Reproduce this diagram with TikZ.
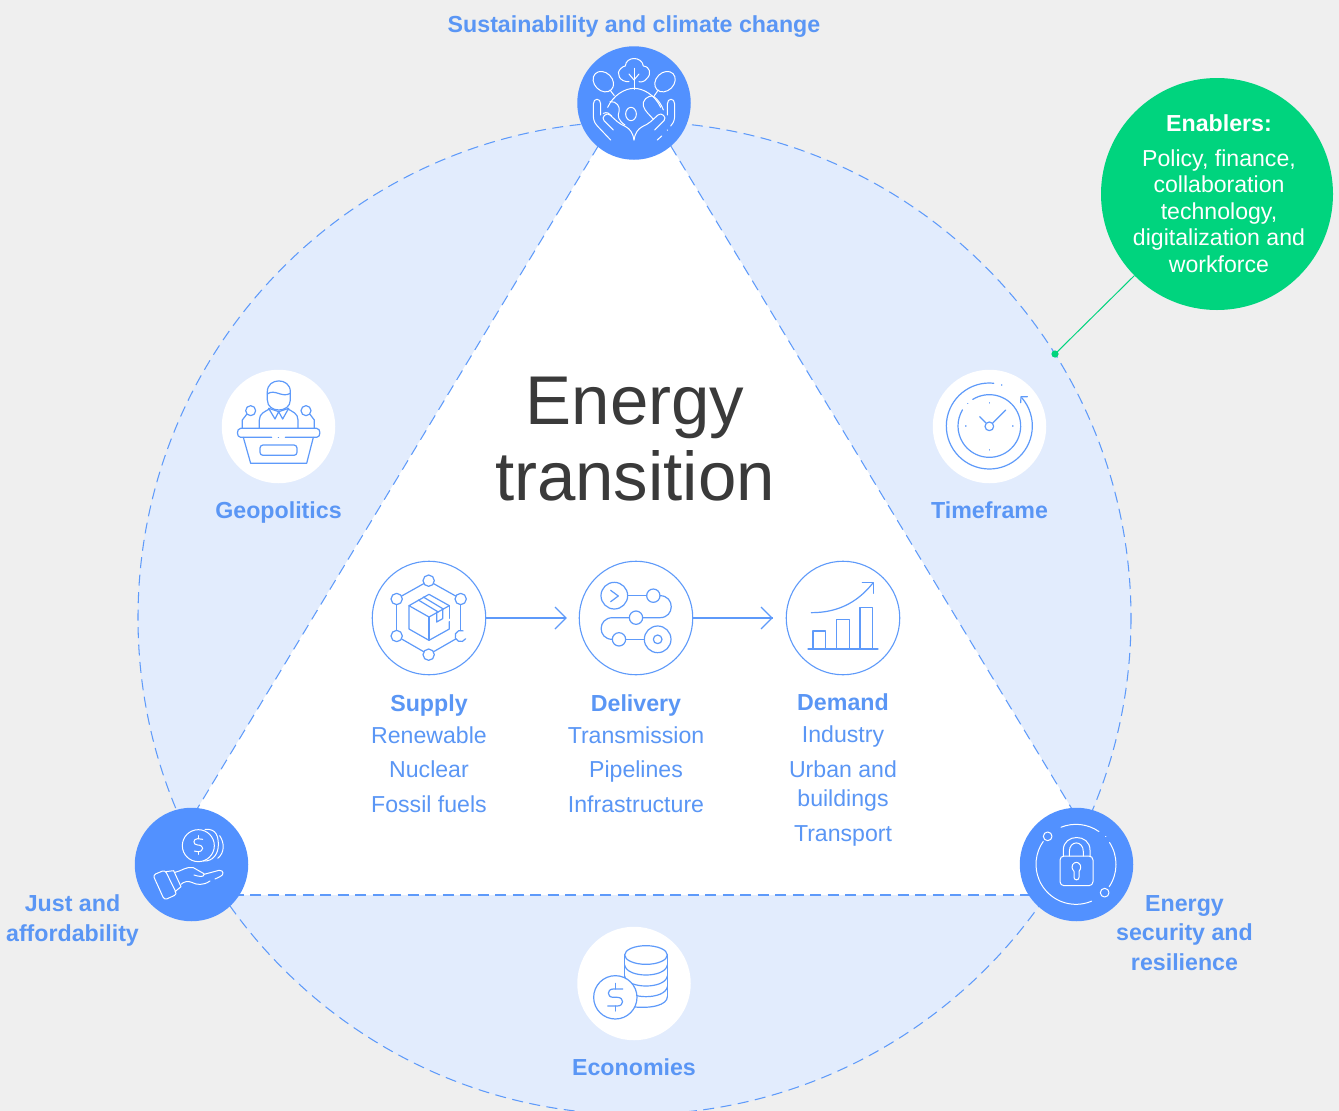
\documentclass[tikz,border=0pt]{standalone}
\usepackage{fontspec}
\setmainfont{Liberation Sans}
\definecolor{bgc}{HTML}{EFEFEF}
\definecolor{paleb}{HTML}{E2ECFD}
\definecolor{discb}{HTML}{5291FF}
\definecolor{txtb}{HTML}{5A96F5}
\definecolor{lineb}{HTML}{5E9AFA}
\definecolor{greenc}{HTML}{00D47E}
\definecolor{darkt}{HTML}{3A3A3A}
\tikzset{
  dashln/.style={draw=lineb,line width=1.05pt,dash pattern=on 11pt off 6.5pt},
  bluedisc/.style={circle,fill=discb,minimum size=113.5pt,inner sep=0pt},
  whitedisc/.style={circle,fill=white,minimum size=113.5pt,inner sep=0pt},
  ringdisc/.style={circle,draw=lineb,line width=1.1pt,fill=white,minimum size=113.5pt,inner sep=0pt},
  lab/.style={anchor=base,inner sep=0pt,text=txtb,font=\fontsize{23.2}{28}\selectfont\bfseries},
  lst/.style={anchor=base,inner sep=0pt,text=txtb,font=\fontsize{23.1}{28}\selectfont},
  mlab/.style={inner sep=0pt,align=center,text=txtb,font=\fontsize{23.2}{29.6}\selectfont\bfseries},
  ico/.style={draw=lineb,line width=1.2pt,line cap=round,line join=round},
  icw/.style={draw=white,line width=1pt,line cap=round,line join=round},
  zoomed/.style={x=0.33333pt,y=-0.33333pt},
  conn/.style={draw=lineb,line width=1.1pt},
}
\begin{document}
\begin{tikzpicture}[x=1pt,y=-1pt]
\useasboundingbox (0,0) rectangle (1339,1111);
\fill[bgc] (0,0) rectangle (1339,1111);
% big circle and triangle
\fill[paleb] (634.5,618) circle (496.5);
\begin{scope}
  \clip (634.5,618) circle (496.5);
  \fill[white] (634.5,86) -- (145,895) -- (1124,895) -- cycle;
  \path[dashln] (634.5,86) -- (145,895);
  \path[dashln] (634.5,86) -- (1124,895);
  \path[dashln] (145,895) -- (1124,895);
\end{scope}
\path[dashln] (634.5,618) circle (496.5);

% discs
\node[bluedisc] (sust) at (634,103) {};
\node[bluedisc] (just) at (191.5,864.5) {};
\node[bluedisc] (secu) at (1076.5,864.5) {};
\node[whitedisc] (geop) at (278.5,426.5) {};
\node[whitedisc] (time) at (989.5,426.5) {};
\node[whitedisc] (econ) at (634,983.5) {};
\node[ringdisc] (supply) at (429,618) {};
\node[ringdisc] (delivery) at (636,618) {};
\node[ringdisc] (demand) at (843,618) {};

% connectors
\draw[conn,shorten >=13pt] (supply) -- (delivery);
\draw[conn,shorten >=13pt] (delivery) -- (demand);
\coordinate (ah1) at (566,618);
\coordinate (ah2) at (772,618);
\draw[conn] ([shift={(-11,-11)}]ah1) -- (ah1) -- ([shift={(-11,11)}]ah1);
\draw[conn] ([shift={(-11,-11)}]ah2) -- (ah2) -- ([shift={(-11,11)}]ah2);

% enablers
\node[circle,fill=greenc,minimum size=232pt,inner sep=0pt] (enab) at (1217,194) {};
\coordinate (edot) at (1055,354);
\draw[greenc,line width=1pt] (enab) -- (edot);
\fill[greenc] (edot) circle (3.6);
\node[anchor=base,inner sep=0pt,text=white,font=\fontsize{23.2}{28}\selectfont\bfseries] (enabh) at (1219,131) {Enablers:};
\node[inner sep=0pt,align=center,text=white,font=\fontsize{23.1}{26.6}\selectfont] (enabt) at (1219,211) {Policy, finance,\\collaboration\\technology,\\digitalization and\\workforce};

% titles
\node[inner sep=0pt,align=center,text=darkt,font=\fontsize{69}{76}\selectfont] (title) at (635,439) {Energy\\transition};
\node[lab] (l1) at (634,32) {Sustainability and climate change};
\node[lab] (l2) at (278.5,518) {Geopolitics};
\node[lab] (l3) at (989.5,518) {Timeframe};
\node[lab] (l4) at (634,1075) {Economies};
\node[mlab] (l5) at (72.5,920.5) {Just and\\affordability};
\node[mlab] (l6) at (1184.5,933) {Energy\\security and\\resilience};

\node[lab] (s0) at (429,711) {Supply};
\node[lst] (s1) at (429,743) {Renewable};
\node[lst] (s2) at (429,777) {Nuclear};
\node[lst] (s3) at (429,812) {Fossil fuels};
\node[lab] (d0) at (636,711) {Delivery};
\node[lst] (d1) at (636,743) {Transmission};
\node[lst] (d2) at (636,777) {Pipelines};
\node[lst] (d3) at (636,812) {Infrastructure};
\node[lab] (e0) at (843,710) {Demand};
\node[lst] (e1) at (843,742) {Industry};
\node[lst] (e2) at (843,777) {Urban and};
\node[lst] (e3) at (843,806) {buildings};
\node[lst] (e4) at (843,841) {Transport};

% ---- sustainability icon
\begin{scope}[shift={(560,30)},zoomed]
  \draw[icw] (207,155) .. controls (180,157) and (165,130) .. (183,115) .. controls (188,110) and (193,108) .. (196,108) .. controls (198,78) and (246,78) .. (250,108) .. controls (270,110) and (276,132) .. (260,146) .. controls (254,156) and (240,157) .. (237,155);
  \draw[icw] (222,115) -- (222,178);
  \draw[icw] (207,132) -- (222,150) -- (237,132);
  \draw[icw,shift={(130,155)},rotate=-45] (0,0) ellipse (34 and 27);
  \draw[icw,shift={(315,155)},rotate=45] (0,0) ellipse (34 and 27);
  \draw[icw] (150,180) -- (163,197);
  \draw[icw] (295,180) -- (283,197);
  \draw[icw] (143,232) .. controls (160,195) and (195,175) .. (222,175) .. controls (250,175) and (285,195) .. (302,232);
  \draw[icw] (152,330) -- (112,288) .. controls (100,275) and (100,265) .. (100,250) -- (100,222) .. controls (100,203) and (122,203) .. (122,222) -- (122,255);
  \draw[icw] (160,300) -- (132,272) .. controls (122,262) and (140,245) .. (150,255) -- (172,275) .. controls (185,290) and (215,285) .. (222,330);
  \draw[icw] (222,330) .. controls (229,285) and (259,290) .. (272,275) -- (294,255) .. controls (304,245) and (322,262) .. (312,272) -- (284,300);
  \draw[icw] (292,330) -- (305,318);
  \draw[icw] (322,300) -- (322.5,300.5);
  \draw[icw] (332,288) .. controls (344,275) and (344,265) .. (344,250) -- (344,222) .. controls (344,203) and (322,203) .. (322,222) -- (322,255);
  \draw[icw] (150,215) .. controls (170,212) and (182,232) .. (177,245) .. controls (172,258) and (175,272) .. (195,285);
  \draw[icw] (130,250) .. controls (140,245) and (150,250) .. (155,258);
  \draw[icw] (282,200) .. controls (262,192) and (245,215) .. (250,228) .. controls (255,245) and (270,255) .. (280,268);
  \draw[icw] (282,200) .. controls (295,210) and (305,225) .. (310,240);
  \draw[icw] (213,252) ellipse (16 and 20);
\end{scope}

% ---- geopolitics icon
\begin{scope}[shift={(210,360)},zoomed]
  \draw[ico] (172,120) -- (172,95) .. controls (172,52) and (241,52) .. (241,95) -- (241,120) .. controls (241,160) and (172,160) .. (172,120) -- cycle;
  \draw[ico] (172,102) .. controls (195,85) and (215,115) .. (241,100);
  \draw[ico] (148,205) -- (148,180) .. controls (148,160) and (165,155) .. (178,147);
  \draw[ico] (264,205) -- (264,180) .. controls (264,160) and (247,155) .. (234,147);
  \draw[ico] (176,145) -- (195,177) -- (206,155) -- (218,177) -- (236,145);
  \draw[ico] (176,145) -- (206,155) -- (236,145);
  \draw[ico] (122,152) circle (15);
  \draw[ico] (288,152) circle (15);
  \draw[ico] (110,163) -- (97,180) -- (97,205);
  \draw[ico] (300,163) -- (313,180) -- (313,205);
  \draw[ico] (185,232) -- (92,232) .. controls (79,232) and (79,205) .. (92,205) -- (320,205) .. controls (333,205) and (333,232) .. (320,232) -- (226,232);
  \draw[ico] (205,232) -- (205.5,232);
  \draw[ico] (100,232) -- (122,310) -- (290,310) -- (310,232);
  \draw[ico,rounded corners=3pt] (150,255) rectangle (261,286);
\end{scope}

% ---- timeframe icon
\begin{scope}[shift={(920,360)},zoomed]
  \draw[ico] (208,198) ++(238:94) arc (238:571:94);
  \draw[ico] (208,198) ++(276:129) arc (276:-41:129);
  \draw[ico] (302,128) -- (303,110) -- (322,110);
  \draw[ico] (245,75) -- (245.5,75);
  \draw[ico] (143,131) -- (143.5,131);
  \draw[ico] (208,128) -- (208,129);
  \draw[ico] (278,198) -- (279,198);
  \draw[ico] (208,269) -- (208,270);
  \draw[ico] (137,198) -- (138,198);
  \draw[ico] (208,199) circle (13);
  \draw[ico] (198,189) -- (179,170);
  \draw[ico] (218,189) -- (257,150);
\end{scope}

% ---- supply icon
\begin{scope}[shift={(360,550)},zoomed]
  \draw[ico] (206,92) circle (17);
  \draw[ico] (302,147) circle (17);
  \draw[ico] (206,314) circle (17);
  \draw[ico] (110,258) circle (17);
  \draw[ico] (110,147) circle (17);
  \draw[ico] (302,258) ++(-65:17) arc (-65:-330:17);
  \draw[ico] (221,101) -- (287,138);
  \draw[ico] (302,164) -- (302,241);
  \draw[ico] (287,267) -- (221,305);
  \draw[ico] (191,305) -- (125,267);
  \draw[ico] (110,241) -- (110,164);
  \draw[ico] (125,138) -- (191,101);
  \draw[ico] (207,133) -- (268,167) -- (207,201) -- (147,167) -- cycle;
  \draw[ico] (147,167) -- (147,237) -- (207,271) -- (268,237) -- (268,215);
  \draw[ico] (268,167) -- (268,205);
  \draw[ico] (207,201) -- (207,271);
  \draw[ico] (175,150) -- (235,186);
  \draw[ico] (190,141) -- (250,177);
  \draw[ico] (230,186) -- (230,216) -- (248,206) -- (248,178);
\end{scope}

% ---- delivery icon
\begin{scope}[shift={(360,550)},zoomed]
  \draw[ico] (763,137) circle (40);
  \draw[ico] (752,121) -- (775,138) -- (752,155);
  \draw[ico] (803,137) -- (860,137);
  \draw[ico] (880,137) circle (20);
  \draw[ico] (900,137) .. controls (945,137) and (945,203) .. (900,203) -- (848,203);
  \draw[ico] (828,203) circle (20);
  \draw[ico] (808,203) -- (758,203) .. controls (712,203) and (712,268) .. (757,268);
  \draw[ico] (777,268) circle (20);
  \draw[ico] (797,268) -- (853,268);
  \draw[ico] (893,268) circle (40);
  \draw[ico] (893,268) circle (13);
\end{scope}

% ---- demand icon
\begin{scope}[shift={(690,550)},zoomed]
  \draw[ico] (369,297) rectangle (407,243);
  \draw[ico] (440,297) rectangle (478,208);
  \draw[ico] (510,297) rectangle (548,172);
  \draw[ico] (354,297) -- (564,297);
  \draw[ico] (364,188) .. controls (440,188) and (500,160) .. (548,100);
  \draw[ico] (517,98) -- (550,98) -- (550,130);
\end{scope}

% ---- economies icon
\begin{scope}[shift={(565,915)},zoomed]
  \draw[ico] (243,120) ellipse (64 and 28);
  \draw[ico] (179,120) -- (179,215);
  \draw[ico] (307,120) -- (307,245);
  \draw[ico] (179,150) .. controls (185,190) and (301,190) .. (307,150);
  \draw[ico] (179,183) .. controls (185,223) and (301,223) .. (307,183);
  \draw[ico] (179,215) .. controls (185,255) and (301,255) .. (307,215);
  \draw[ico] (200,275) .. controls (260,282) and (307,270) .. (307,245);
  \draw[ico,fill=white] (151,247) circle (65);
  \draw[ico] (151,205) -- (151,222);
  \draw[ico] (151,273) -- (151,288);
  \draw[ico] (173,222) -- (145,222) .. controls (125,222) and (125,247) .. (145,247) -- (157,247) .. controls (178,247) and (178,273) .. (157,273) -- (128,273);
\end{scope}

% ---- just icon
\begin{scope}[shift={(125,795)},zoomed]
  \draw[icw] (220,152) circle (48);
  \draw[icw] (240,103) .. controls (275,100) and (280,125) .. (280,150) .. controls (280,175) and (265,200) .. (235,198);
  \draw[icw] (284,122) .. controls (300,145) and (298,175) .. (278,190);
  \draw[icw] (220,122) -- (220,131);
  \draw[icw] (220,170) -- (220,178);
  \draw[icw] (233,133) -- (218,131) .. controls (203,131) and (203,150) .. (218,150) .. controls (238,150) and (238,170) .. (218,170) -- (208,168);
  \draw[icw,rounded corners=3pt] (84,240) -- (120,225) -- (156,298) -- (118,315) -- cycle;
  \draw[icw] (122,230) -- (146,227) -- (168,275) -- (150,290);
  \draw[icw] (150,232) .. controls (170,228) and (185,213) .. (205,218) -- (237,236) .. controls (240,248) and (222,245) .. (207,240);
  \draw[icw] (237,238) -- (282,226) .. controls (297,225) and (298,240) .. (285,245) -- (270,252);
  \draw[icw] (255,258) .. controls (235,272) and (215,270) .. (200,262) .. controls (190,257) and (175,260) .. (168,268);
\end{scope}

% ---- security icon
\begin{scope}[shift={(1010,795)},zoomed]
  \draw[icw,rounded corners=4pt] (150,183) rectangle (249,272);
  \draw[icw] (160,183) -- (160,165) .. controls (160,115) and (240,115) .. (240,165) -- (240,183);
  \draw[icw] (178,183) -- (178,170) .. controls (178,135) and (220,135) .. (220,170) -- (220,183);
  \draw[icw] (192,229) .. controls (178,212) and (192,202) .. (199,202) .. controls (206,202) and (220,212) .. (207,229) -- (207,247) .. controls (207,257) and (192,257) .. (192,247) -- cycle;
  \draw[icw] (198,208) ++(248:120) arc (248:305:120);
  \draw[icw] (198,208) ++(327:120) arc (327:394:120);
  \draw[icw] (198,208) ++(67:120) arc (67:215:120);
  \draw[icw] (113,124) circle (13);
  \draw[icw] (284,293) circle (13);
  \draw[icw] (287,124) -- (287.5,124);
\end{scope}
\end{tikzpicture}
\end{document}
